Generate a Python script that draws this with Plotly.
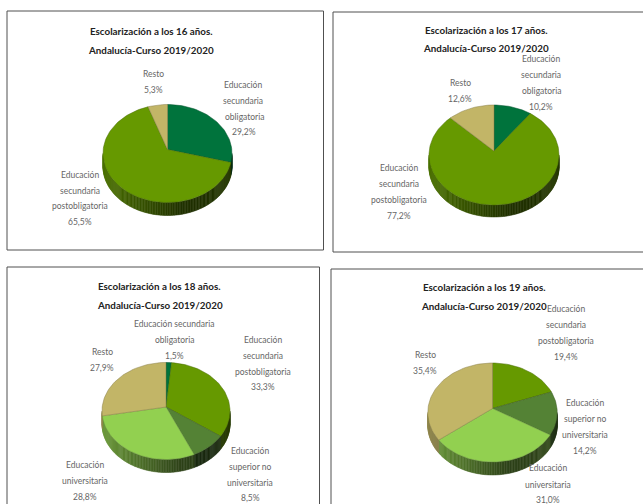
import math
import plotly.graph_objects as go

# ---- data ----
ob16 = [29.2, 65.5, 5.3]
ob17 = [10.2, 77.2, 12.6]
ob18 = [1.5, 33.3, 8.5, 28.8, 27.9]
ob19 = [19.4, 14.2, 31.0, 35.4]
C_OB, C_PO, C_SU, C_UN, C_RE = "#00733C", "#669900", "#548235", "#92D050", "#C2B567"
colors16 = [C_OB, C_PO, C_RE]
colors17 = [C_OB, C_PO, C_RE]
colors18 = [C_OB, C_PO, C_SU, C_UN, C_RE]
colors19 = [C_PO, C_SU, C_UN, C_RE]
title_2 = "Andalucía-Curso 2019/2020"

# ---- layout helpers: each pie = (cx, cy, rx, ry, depth, apex dy) in page pixels ----
pies = [
    (ob16, colors16, (167.5, 153.5, 64.5, 49, 13, -4)),
    (ob17, colors17, (494, 155, 65, 50, 12, -4)),
    (ob18, colors18, (166, 411, 64, 48.5, 13, -4)),
    (ob19, colors19, (492.5, 412.5, 64.7, 49.5, 13, -4)),
]
frames = [(7, 323.5, 11, 250), (333, 660, 12, 252), (7, 319.5, 267, 520), (331, 660, 269, 520)]
texts = [
    # titles
    (151, 31, "Escolarización a los 16 años.", 1), (151, 50, title_2, 1),
    (486, 30, "Escolarización a los 17 años.", 1), (486, 48, title_2, 1),
    (159.5, 286, "Escolarización a los 18 años.", 1), (159.5, 305, title_2, 1),
    (484, 287, "Escolarización a los 19 años.", 1), (484, 306, title_2, 1),
    # 16
    (153, 74, "Resto", 0), (153, 90, "5,3%", 0),
    (243, 85, "Educación", 0), (243, 101, "secundaria", 0), (244, 117, "obligatoria", 0), (244, 132, "29,2%", 0),
    (80, 175, "Educación", 0), (80, 191, "secundaria", 0), (80, 206, "postobligatoria", 0), (80, 222, "65,5%", 0),
    # 17
    (541, 59, "Educación", 0), (541, 75, "secundaria", 0), (541, 91, "obligatoria", 0), (541, 107, "10,2%", 0),
    (460, 83, "Resto", 0), (460, 99, "12,6%", 0),
    (399, 168, "Educación", 0), (399, 184, "secundaria", 0), (399, 200, "postobligatoria", 0), (399, 216, "77,2%", 0),
    # 18
    (174, 324, "Educación secundaria", 0), (174, 340, "obligatoria", 0), (174, 356, "1,5%", 0),
    (263, 340, "Educación", 0), (263, 356, "secundaria", 0), (263, 372, "postobligatoria", 0), (263, 387, "33,3%", 0),
    (102, 352, "Resto", 0), (102, 368, "27,9%", 0),
    (85, 465, "Educación", 0), (85, 481, "universitaria", 0), (85, 497, "28,8%", 0),
    (250, 451, "Educación", 0), (250, 467, "superior no", 0), (250, 483, "universitaria", 0), (250, 498, "8,5%", 0),
    # 19
    (566, 309, "Educación", 0), (566, 325, "secundaria", 0), (566, 341, "postobligatoria", 0), (566, 357, "19,4%", 0),
    (425, 355, "Resto", 0), (425, 371, "35,4%", 0),
    (585, 403, "Educación", 0), (585, 419, "superior no", 0), (585, 435, "universitaria", 0), (585, 451, "14,2%", 0),
    (548, 468, "Educación", 0), (548, 485, "universitaria", 0), (548, 500, "31,0%", 0),
]


def rgb(hex_c):
    return [int(hex_c[i:i + 2], 16) for i in (1, 3, 5)]


def shade(hex_c, f):
    return "rgb(%d,%d,%d)" % tuple(round(c * f) for c in rgb(hex_c))


fig = go.Figure()


def rim(geom, deg, dy=0):
    cx, cy, rx, ry = geom[:4]
    a = math.radians(deg)
    return cx + rx * math.sin(a), cy - ry * math.cos(a) + dy


def ray_to_rim(geom, deg):
    """Clockwise share angle -> ellipse parameter of where the ray from the (off-centre) apex meets the rim."""
    ry, apex = geom[3], geom[5]
    a = math.radians(deg)
    dx, dy = math.sin(a), -math.cos(a)
    py = apex / ry
    b = py * dy
    t = -b + math.sqrt(b * b + 1 - py * py)
    x, y = t * dx, py + t * dy
    par = math.degrees(math.atan2(x, -y))
    if par < 0:
        par += 360
    if deg >= 359.999:
        par = 360.0
    return par


def wall_shade(geom, x):
    cx, rx = geom[0], geom[2]
    u = (x - (cx - rx)) / (2 * rx)
    return 0.74 - 0.42 * min(1, u / 0.62) + 0.06 * max(0, u - 0.8) / 0.2


for values, cols, geom in pies:
    cx, cy, rx, ry, depth, apex = geom
    total = sum(values)
    start = 0.0
    spans = []
    for v, c in zip(values, cols):
        end = start + 360 * v / total
        spans.append((ray_to_rim(geom, start), ray_to_rim(geom, end), c))
        start = end
    # side wall: strips of one-pixel-wide shading along the front half, painted left to right order-free
    for a0, a1, c in spans:
        lo, hi = max(a0, 90), min(a1, 270)
        if hi <= lo:
            continue
        steps = max(1, round((hi - lo) / 1.5))
        for i in range(steps):
            d = lo + (hi - lo) * i / steps
            e = lo + (hi - lo) * (i + 1) / steps
            p0, p1 = rim(geom, d), rim(geom, e)
            q1, q0 = rim(geom, e, depth), rim(geom, d, depth)
            col = shade(c, wall_shade(geom, (p0[0] + p1[0]) / 2))
            fig.add_trace(go.Scatter(x=[p0[0], p1[0], q1[0], q0[0], p0[0]],
                                     y=[p0[1], p1[1], q1[1], q0[1], p0[1]],
                                     mode="lines", fill="toself", fillcolor=col,
                                     line=dict(width=0.5, color=col, simplify=False),
                                     hoverinfo="skip", showlegend=False))
    # top slices
    for a0, a1, c in spans:
        n = max(2, int((a1 - a0) / 2))
        pts = [rim(geom, a0 + (a1 - a0) * i / n) for i in range(n + 1)]
        xs = [cx] + [p[0] for p in pts] + [cx]
        ys = [cy + apex] + [p[1] for p in pts] + [cy + apex]
        fig.add_trace(go.Scatter(x=xs, y=ys, mode="lines", fill="toself", fillcolor=c,
                                 line=dict(width=0.5, color=shade(c, 0.7)), hoverinfo="skip", showlegend=False))

shapes = [dict(type="rect", xref="x", yref="y", x0=x0, x1=x1, y0=y0, y1=y1,
               line=dict(color="#505050", width=1), fillcolor="rgba(0,0,0,0)", layer="below")
          for x0, x1, y0, y1 in frames]

annotations = []
for x, y, t, bold in texts:
    annotations.append(dict(
        x=x, y=y, xref="x", yref="y", text=f"<b>{t}</b>" if bold else t, showarrow=False,
        xanchor="center", yanchor="middle",
        font=dict(family="Lato", size=9.8 if bold else 8.5, color="#222222" if bold else "#666666")))

fig.update_layout(
    width=643, height=504, autosize=False, margin=dict(l=0, r=0, t=0, b=0),
    paper_bgcolor="white", plot_bgcolor="white", showlegend=False,
    xaxis=dict(range=[0, 643], visible=False, fixedrange=True),
    yaxis=dict(range=[504, 0], visible=False, fixedrange=True),
    shapes=shapes, annotations=annotations,
)
fig.write_html("out.html", config={"displayModeBar": False},
               post_script="document.body.style.margin='0';document.body.style.overflow='hidden';")
